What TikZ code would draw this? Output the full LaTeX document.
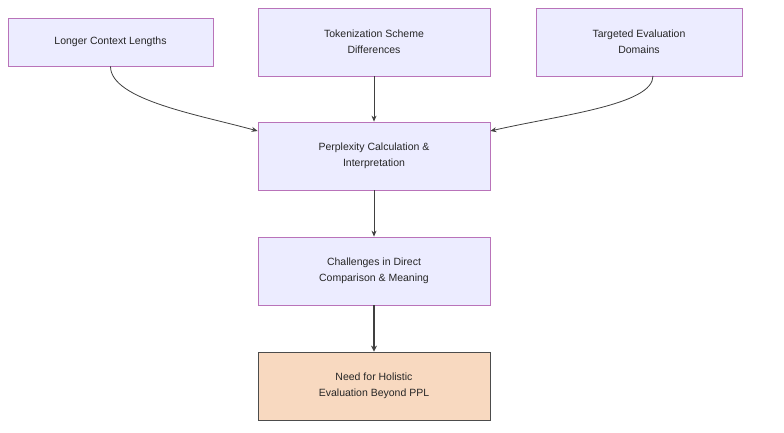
\documentclass[tikz,border=0pt]{standalone}
\usepackage{fontspec}
\setmainfont{Liberation Sans}
\usetikzlibrary{arrows.meta}
\begin{document}
\begin{tikzpicture}[x=1pt,y=-1pt,
  box/.style={draw=violet!60!blue!50, fill=blue!8, line width=0.8pt, minimum height=68pt, minimum width=232pt, align=center, font=\fontsize{10.5}{16}\selectfont, text=black!85},
  arr/.style={-{Stealth[length=6pt,width=5pt]}, draw=black!75, line width=0.8pt}]
\useasboundingbox[fill=white] (0,0) rectangle (784,433);
\tikzset{every node/.append style={}}
\colorlet{bd}{violet!55!white}
\node[box, draw=bd, fill={rgb,255:red,236;green,236;blue,255}, minimum width=205pt, minimum height=48pt] (a) at (110.5,42) {Longer Context Lengths};
\node[box, draw=bd, fill={rgb,255:red,236;green,236;blue,255}] (b) at (374,42) {Tokenization Scheme\\Differences};
\node[box, draw=bd, fill={rgb,255:red,236;green,236;blue,255}, minimum width=206pt] (c) at (639,42) {Targeted Evaluation\\Domains};
\node[box, draw=bd, fill={rgb,255:red,236;green,236;blue,255}] (d) at (374,156) {Perplexity Calculation \&\\Interpretation};
\node[box, draw=bd, fill={rgb,255:red,236;green,236;blue,255}] (e) at (374,271) {Challenges in Direct\\Comparison \& Meaning};
\node[box, draw=black!70, fill={rgb,255:red,248;green,217;blue,192}] (f) at (374,386) {Need for Holistic\\Evaluation Beyond PPL};
\draw[arr] (a.south) .. controls (110.5,100) and (200,115) .. (d.west |- 0,131);
\draw[arr] (b) -- (d);
\draw[arr] (653,76) .. controls (653,105) and (560,115) .. (d.east |- 0,131);
\draw[arr] (d) -- (e);
\draw[arr, line width=2.2pt, -{Stealth[length=6pt,width=6pt]}] (e) -- (f);
\end{tikzpicture}
\end{document}
